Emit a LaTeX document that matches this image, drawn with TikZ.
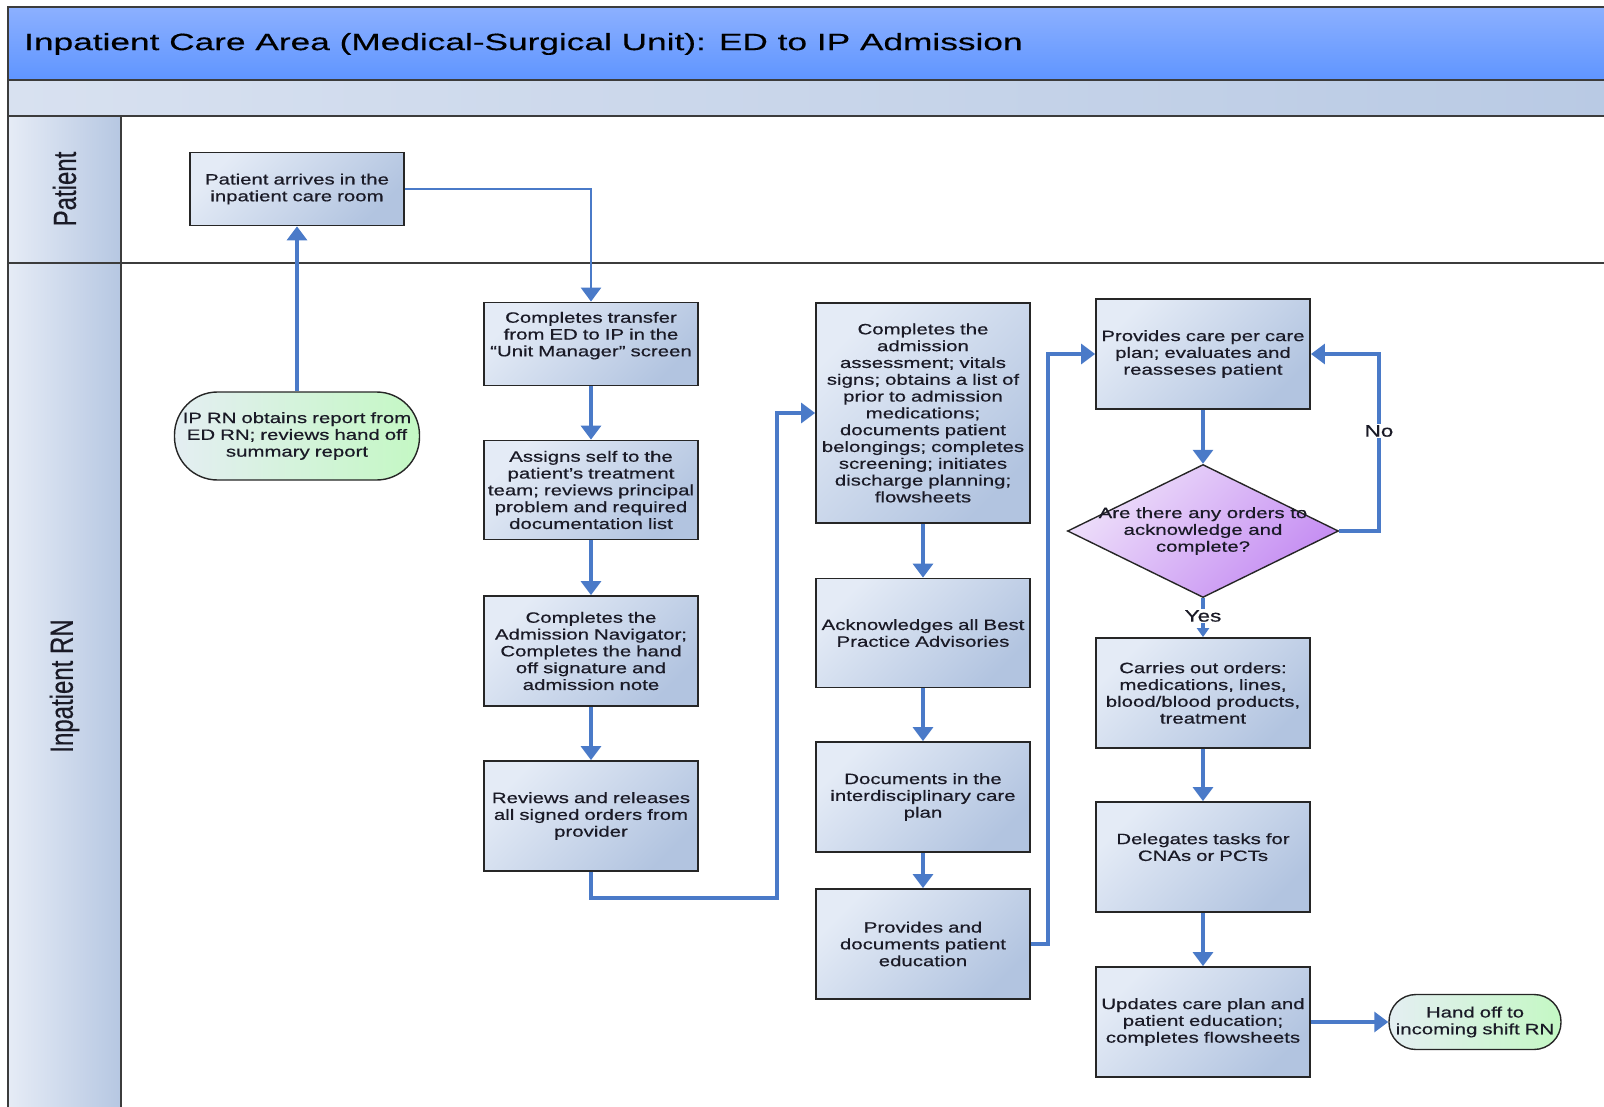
\documentclass[tikz,border=0pt]{standalone}
\usepackage{fontspec}
\setmainfont{Liberation Sans}
\newfontfamily\boxfont[FakeStretch=1.36,FakeBold=0.5]{Liberation Sans}
\newfontfamily\titlefont[FakeStretch=1.5,FakeBold=0.4]{Liberation Sans}
\newfontfamily\lanefont[FakeStretch=0.75,FakeBold=0.4]{Liberation Sans}
\usetikzlibrary{arrows.meta,shapes.geometric}

\definecolor{flow}{HTML}{4A7AC8}
\definecolor{edge}{HTML}{262626}
\definecolor{laneedge}{HTML}{3C3C3C}
\definecolor{txt}{HTML}{1A1A26}
\definecolor{boxlight}{HTML}{E4EBF6}
\definecolor{boxdark}{HTML}{B2C4E0}
\definecolor{decilight}{HTML}{EEE0FA}
\definecolor{decidark}{HTML}{C48BF2}
\definecolor{termlight}{HTML}{E4EEF2}
\definecolor{termdark}{HTML}{C4F8C4}
\definecolor{headtop}{HTML}{8CB0FF}
\definecolor{headbot}{HTML}{5F95FF}
\definecolor{bandleft}{HTML}{D8E1F0}
\definecolor{bandright}{HTML}{B9CAE4}
\definecolor{colleft}{HTML}{E6ECF6}
\definecolor{colright}{HTML}{B6C7E2}

\tikzset{
  stepbox/.style={draw=edge, line width=1.8pt,
    top color=boxlight, bottom color=boxdark, shading angle=45,
    rectangle, minimum width=214pt, text width=214pt, inner sep=0pt,
    align=center, text=txt, font=\boxfont\fontsize{15}{16.8}\selectfont},
  termbox/.style={draw=edge, line width=1.4pt,
    left color=termlight, right color=termdark,
    rectangle, inner sep=0pt, align=center, text=txt,
    font=\boxfont\fontsize{15}{16.8}\selectfont},
  decibox/.style={draw=edge, line width=1.4pt,
    top color=decilight, bottom color=decidark, shading angle=45,
    diamond, minimum width=271pt, minimum height=133pt, inner sep=0pt},
  decitext/.style={align=center, text=txt, inner sep=0pt,
    font=\boxfont\fontsize{15}{16.8}\selectfont},
  flowline/.style={draw=flow, line width=3.2pt, line join=miter,
    -{Triangle[length=14pt,width=20pt]}},
  lbl/.style={fill=white, inner sep=1pt, text=txt,
    font=\boxfont\fontsize{16.5}{18}\selectfont},
  lanelabel/.style={rotate=90, text=txt, inner sep=0pt,
    font=\lanefont\fontsize{32}{36}\selectfont},
}

\begin{document}
\begin{tikzpicture}[x=1pt,y=-1pt]
\useasboundingbox (0,0) rectangle (1604,1107);

% pool header, band and lane column
\fill[top color=headtop, bottom color=headbot] (8,7) rectangle (1610,80);
\fill[left color=bandleft, right color=bandright] (8,80) rectangle (1610,116);
\fill[left color=colleft, right color=colright] (8,116) rectangle (121,1112);
\draw[laneedge, line width=2pt] (1610,7) -- (8,7) -- (8,1112);
\draw[laneedge, line width=2pt] (8,80) -- (1610,80);
\draw[laneedge, line width=2pt] (8,116) -- (1610,116);
\draw[laneedge, line width=1.6pt] (8,263) -- (1610,263);
\draw[laneedge, line width=1.6pt] (121,116) -- (121,1112);

\node[anchor=west, text=black, inner sep=0pt,
      font=\titlefont\fontsize{23.5}{28}\selectfont] (title) at (24,44)
  {Inpatient Care Area (Medical-Surgical Unit): ED to IP Admission};
\node[lanelabel] (lanepatient) at (64.5,189) {Patient};
\node[lanelabel] (lanern) at (64.5,686) {Inpatient RN};

% Patient lane
\node[stepbox, minimum height=73pt] (pa) at (297,189)
  {Patient arrives in the\\inpatient care room};

% Inpatient RN lane, first column
\node[termbox, rounded corners=43pt, minimum width=245pt, text width=245pt,
      minimum height=88pt] (ip) at (297,436)
  {IP RN obtains report from\\ED RN; reviews hand off\\summary report};
\node[stepbox, minimum height=83pt] (ct) at (591,344)
  {Completes transfer\\from ED to IP in the\\“Unit Manager” screen\\[3pt]\mbox{}};
\node[stepbox, minimum height=99pt] (as) at (591,490)
  {Assigns self to the\\patient’s treatment\\team; reviews principal\\problem and required\\documentation list};
\node[stepbox, minimum height=110pt] (an) at (591,651)
  {Completes the\\Admission Navigator;\\Completes the hand\\off signature and\\admission note};
\node[stepbox, minimum height=110pt] (rr) at (591,816)
  {Reviews and releases\\all signed orders from\\provider};

% second column
\node[stepbox, minimum height=220pt] (ca) at (923,413)
  {Completes the\\admission\\assessment; vitals\\signs; obtains a list of\\prior to admission\\medications;\\documents patient\\belongings; completes\\screening; initiates\\discharge planning;\\flowsheets};
\node[stepbox, minimum height=109pt] (ba) at (923,633)
  {Acknowledges all Best\\Practice Advisories};
\node[stepbox, minimum height=110pt] (dc) at (923,797)
  {Documents in the\\interdisciplinary care\\plan};
\node[stepbox, minimum height=110pt] (pe) at (923,944)
  {Provides and\\documents patient\\education};

% third column
\node[stepbox, minimum height=110pt] (cp) at (1203,354)
  {Provides care per care\\plan; evaluates and\\reasseses patient};
\node[decibox] (dq) at (1203,531) {};
\node[decitext] (dqtext) at (dq.center)
  {Are there any orders to\\acknowledge and\\complete?};
\node[stepbox, minimum height=110pt] (co) at (1203,693)
  {Carries out orders:\\medications, lines,\\blood/blood products,\\treatment};
\node[stepbox, minimum height=110pt] (dt) at (1203,857)
  {Delegates tasks for\\CNAs or PCTs\\[3pt]\mbox{}};
\node[stepbox, minimum height=110pt] (uc) at (1203,1022)
  {Updates care plan and\\patient education;\\completes flowsheets};
\node[termbox, rounded corners=27pt, minimum width=172pt, text width=172pt,
      minimum height=55pt] (ho) at (1475,1022)
  {Hand off to\\incoming shift RN};

% bends of the routed connectors
\coordinate (bendA) at (777,898);
\coordinate (bendB) at (1048,944);
\coordinate (bendC) at (1379,531);

% connectors
\draw[flowline] (ip.north) -- (pa.south);
\draw[flowline, line width=2.7pt] (pa.east) -| (ct.north);
\draw[flowline] (ct.south) -- (as.north);
\draw[flowline] (as.south) -- (an.north);
\draw[flowline] (an.south) -- (rr.north);
\draw[flowline] (rr.south) |- (bendA) |- (ca.west);
\draw[flowline] (ca.south) -- (ba.north);
\draw[flowline] (ba.south) -- (dc.north);
\draw[flowline] (dc.south) -- (pe.north);
\draw[flowline] (pe.east) -- (bendB) |- (cp.west);
\draw[flowline] (cp.south) -- (dq.north);
\draw[flowline] (dq.east) -- (bendC) |- (cp.east);
\draw[flowline, -{Triangle[length=9pt,width=12pt]}] (dq.south) -- (co.north);
\draw[flowline] (co.south) -- (dt.north);
\draw[flowline] (dt.south) -- (uc.north);
\draw[flowline] (uc.east) -- (ho.west);

% branch labels
\node[lbl] (nolabel) at (1379,431) {No};
\node[lbl] (yeslabel) at (1203,616) {Yes};
\end{tikzpicture}
\end{document}
